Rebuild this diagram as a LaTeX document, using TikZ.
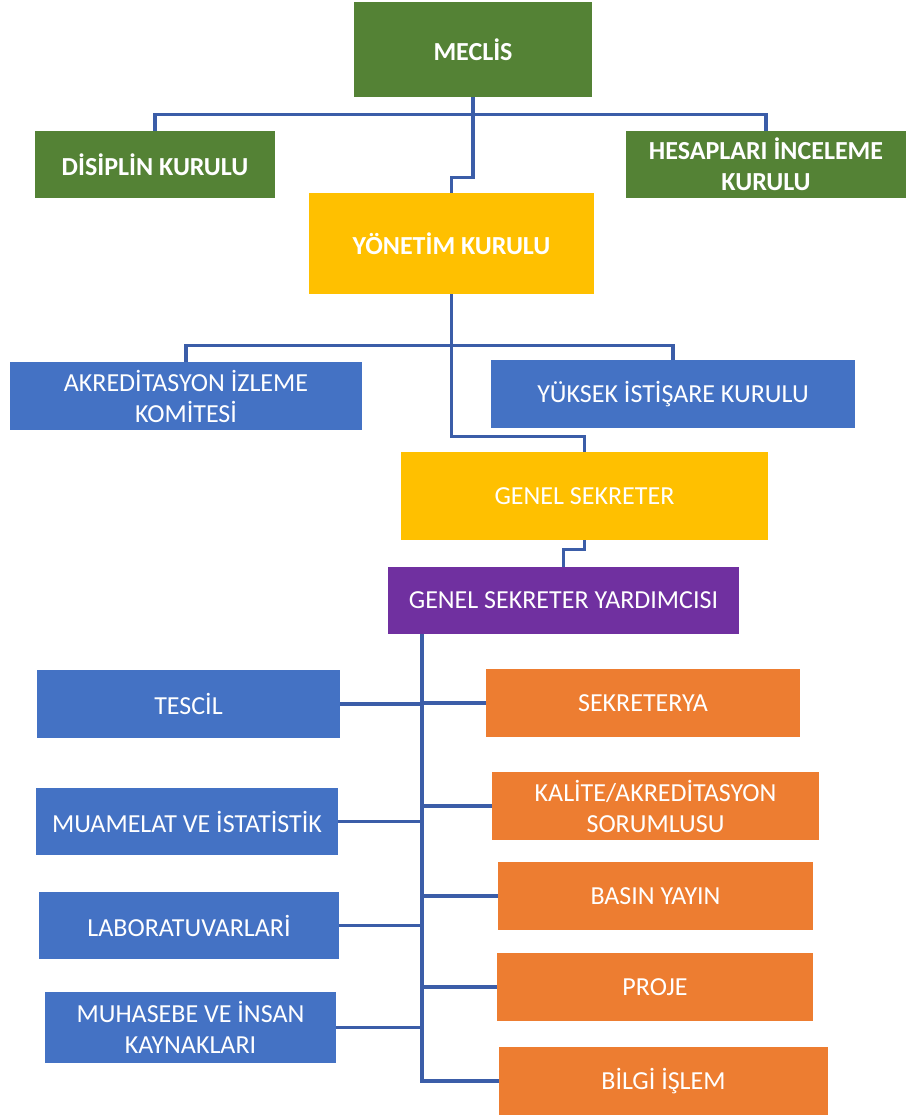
\documentclass[tikz,border=0pt]{standalone}
\usepackage{fontspec}
\setmainfont{Carlito}
\usepackage{xcolor}
\usepackage{tikz}
\definecolor{kgreen}{HTML}{548235}
\definecolor{kyellow}{HTML}{FFC000}
\definecolor{kblue}{HTML}{4472C4}
\definecolor{kpurple}{HTML}{7030A0}
\definecolor{korange}{HTML}{ED7D31}
\definecolor{kline}{HTML}{3B5DA8}

\begin{document}
\begin{tikzpicture}[x=1pt, y=-1pt,
  unit/.style={rectangle, text=white, align=center, inner sep=2pt,
    font=\fontsize{26}{31}\selectfont},
  board/.style={unit, font=\fontsize{26}{31}\selectfont\bfseries},
  link/.style={draw=kline, line width=3.2pt}]
  \useasboundingbox (0,0) rectangle (906,1115);

  % Meclis and its boards
  \node[board, fill=kgreen, minimum width=238, minimum height=95] (meclis) at (473,49.5) {MECLİS};
  \node[board, fill=kgreen, minimum width=240, minimum height=67] (disiplin) at (155,164.5) {DİSİPLİN KURULU};
  \node[board, fill=kgreen, minimum width=280, minimum height=67] (hesap) at (766,164.5) {HESAPLARI İNCELEME\\KURULU};
  \node[board, fill=kyellow, minimum width=285, minimum height=101] (yonetim) at (451.5,243.5) {YÖNETİM KURULU};

  % Committees under the Yonetim Kurulu
  \node[unit, fill=kblue, minimum width=352, minimum height=68] (akred) at (186,396) {AKREDİTASYON İZLEME\\KOMİTESİ};
  \node[unit, fill=kblue, minimum width=364, minimum height=68] (yuksek) at (673,394) {YÜKSEK İSTİŞARE KURULU};
  \node[unit, fill=kyellow, minimum width=367, minimum height=88] (gen_sek) at (584.5,496) {GENEL SEKRETER};
  \node[unit, fill=kpurple, minimum width=351, minimum height=67] (gsy) at (563.5,600.5) {GENEL SEKRETER YARDIMCISI};

  % Units (left)
  \node[unit, fill=kblue, minimum width=303, minimum height=68] (tescil) at (188.5,704) {TESCİL};
  \node[unit, fill=kblue, minimum width=302, minimum height=67] (muamelat) at (187,821.5) {MUAMELAT VE İSTATİSTİK};
  \node[unit, fill=kblue, minimum width=300, minimum height=67] (lab) at (189,925.5) {LABORATUVARLARİ};
  \node[unit, fill=kblue, minimum width=291, minimum height=71] (muhasebe) at (190.5,1027.5) {MUHASEBE VE İNSAN\\KAYNAKLARI};

  % Units (right)
  \node[unit, fill=korange, minimum width=314, minimum height=68] (sekreterya) at (643,703) {SEKRETERYA};
  \node[unit, fill=korange, minimum width=327, minimum height=68] (kalite) at (655.5,806) {KALİTE/AKREDİTASYON\\SORUMLUSU};
  \node[unit, fill=korange, minimum width=315, minimum height=68] (basin) at (655.5,896) {BASIN YAYIN};
  \node[unit, fill=korange, minimum width=316, minimum height=68] (proje) at (655,987) {PROJE};
  \node[unit, fill=korange, minimum width=329, minimum height=68] (bilgi) at (663.5,1081) {BİLGİ İŞLEM};

  % Connectors
  \draw[link] (disiplin.north) -- ++(0,-16) -| (hesap.north);
  \draw[link] (meclis.south) -- ++(0,80) -| (yonetim.north);
  \draw[link] (akred.north) -- ++(0,-16) -| (yuksek.north);
  \draw[link] (yonetim.south) -- ++(0,142) -| (gen_sek.north);
  \draw[link] (gen_sek.south) -- ++(0,9) -| (gsy.north);

  \coordinate (bus) at (422,1081);
  \draw[link] (gsy.south -| bus) -- (bus) -- (bilgi.west);
  \foreach \u in {tescil, muamelat, lab, muhasebe}
    \draw[link] (\u.east) -- (\u.east -| bus);
  \foreach \u in {sekreterya, kalite, basin, proje}
    \draw[link] (\u.west -| bus) -- (\u.west);
\end{tikzpicture}
\end{document}
